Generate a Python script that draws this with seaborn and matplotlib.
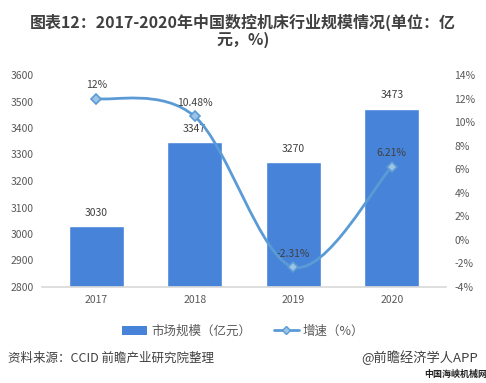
import numpy as np
import pandas as pd
import matplotlib
matplotlib.use("Agg")
import matplotlib.pyplot as plt
from matplotlib.path import Path
from matplotlib.patches import PathPatch, Patch
from matplotlib.lines import Line2D
import seaborn as sns

years = ["2017", "2018", "2019", "2020"]
market_size = [3030, 3347, 3270, 3473]
growth = [12.0, 10.48, -2.31, 6.21]
growth_labels = ["12%", "10.48%", "-2.31%", "6.21%"]

bar_color = "#4683D9"
line_color = "#5B9BD5"
text_color = "#595959"


def smooth_path(xs, ys):
    # Excel-style smoothed line: cubic Bezier through each point
    pts = np.column_stack([xs, ys]).astype(float)
    n = len(pts)
    verts = [pts[0]]
    codes = [Path.MOVETO]
    for i in range(n - 1):
        p0 = pts[i - 1] if i > 0 else pts[i]
        p1 = pts[i]
        p2 = pts[i + 1]
        p3 = pts[i + 2] if i + 2 < n else pts[i + 1]
        c1 = p1 + (p2 - p0) / 6.0
        c2 = p2 - (p3 - p1) / 6.0
        verts += [c1, c2, p2]
        codes += [Path.CURVE4] * 3
    return Path(verts, codes)


if __name__ == "__main__":
    sns.set_theme(style="white")
    plt.rcParams["font.family"] = ["Noto Sans CJK SC", "DejaVu Sans"]

    df = pd.DataFrame({"year": years, "size": market_size, "growth": growth})

    fig = plt.figure(figsize=(4.86, 3.83), dpi=100)
    ax = fig.add_axes([42 / 486, 96 / 383, 404 / 486, 212 / 383])

    sns.barplot(data=df, x="year", y="size", color=bar_color, saturation=1,
                width=0.56, ax=ax)
    ax.set_ylim(2800, 3600)
    ax.set_yticks(range(2800, 3601, 100))
    ax.set_xlabel("")
    ax.set_ylabel("")
    for i, v in enumerate(market_size):
        ax.annotate(str(v), (i, v), xytext=(0, 6), textcoords="offset points",
                    ha="center", va="bottom", fontsize=7.5, color="#404040")

    ax2 = ax.twinx()
    ax2.set_ylim(-4, 14)
    ax2.set_yticks(range(-4, 15, 2))
    ax2.set_yticklabels([f"{t}%" for t in range(-4, 15, 2)])
    x_pos = np.arange(len(years))
    ax2.add_patch(PathPatch(smooth_path(x_pos, growth), facecolor="none",
                            edgecolor=line_color, lw=2))
    ax2.plot(x_pos, growth, linestyle="none", marker="D", markersize=5,
             markerfacecolor="#9DC3E6", markeredgecolor=line_color, mew=1.2)
    for i, (v, lab) in enumerate(zip(growth, growth_labels)):
        ax2.annotate(lab, (i, v), xytext=(0, 6), textcoords="offset points",
                     ha="center", va="bottom", fontsize=7.5, color="#404040")

    for a in (ax, ax2):
        for s in ("top", "left", "right"):
            a.spines[s].set_visible(False)
        a.tick_params(length=0, labelsize=7.5, colors=text_color, pad=6)
        a.grid(False)
    ax.spines["bottom"].set_color("#D9D9D9")
    ax2.spines["bottom"].set_visible(False)
    ax.set_xlim(-0.55, 3.55)

    title_kw = dict(ha="center", va="center", fontsize=11.5, fontweight="bold",
                    color="#404040")
    fig.text(0.5, 1 - 22 / 383, "图表12：2017-2020年中国数控机床行业规模情况(单位：亿",
             **title_kw)
    fig.text(0.5, 1 - 40 / 383, "元，%)", **title_kw)

    handles = [Patch(facecolor=bar_color, edgecolor="none"),
               Line2D([0], [0], color=line_color, lw=2, marker="D", markersize=4,
                      markerfacecolor="#9DC3E6", markeredgecolor=line_color)]
    fig.legend(handles, ["市场规模（亿元）", "增速（%）"], loc="center",
               bbox_to_anchor=(0.5, 52 / 383), ncol=2, frameon=False,
               fontsize=9, handlelength=2.0, handletextpad=0.3,
               columnspacing=1.8, labelcolor=text_color)

    fig.text(8 / 486, 1 - 358 / 383, "资料来源：CCID 前瞻产业研究院整理",
             ha="left", va="center", fontsize=9, color="#404040")
    fig.text(478 / 486, 1 - 358 / 383, "@前瞻经济学人APP",
             ha="right", va="center", fontsize=9.5, color="#404040")
    fig.text(456 / 486, 1 - 374 / 383, "中国海峡机械网",
             ha="center", va="center", fontsize=6.5, fontweight="bold",
             color="#222222")

    fig.savefig("out.png", dpi=100)
